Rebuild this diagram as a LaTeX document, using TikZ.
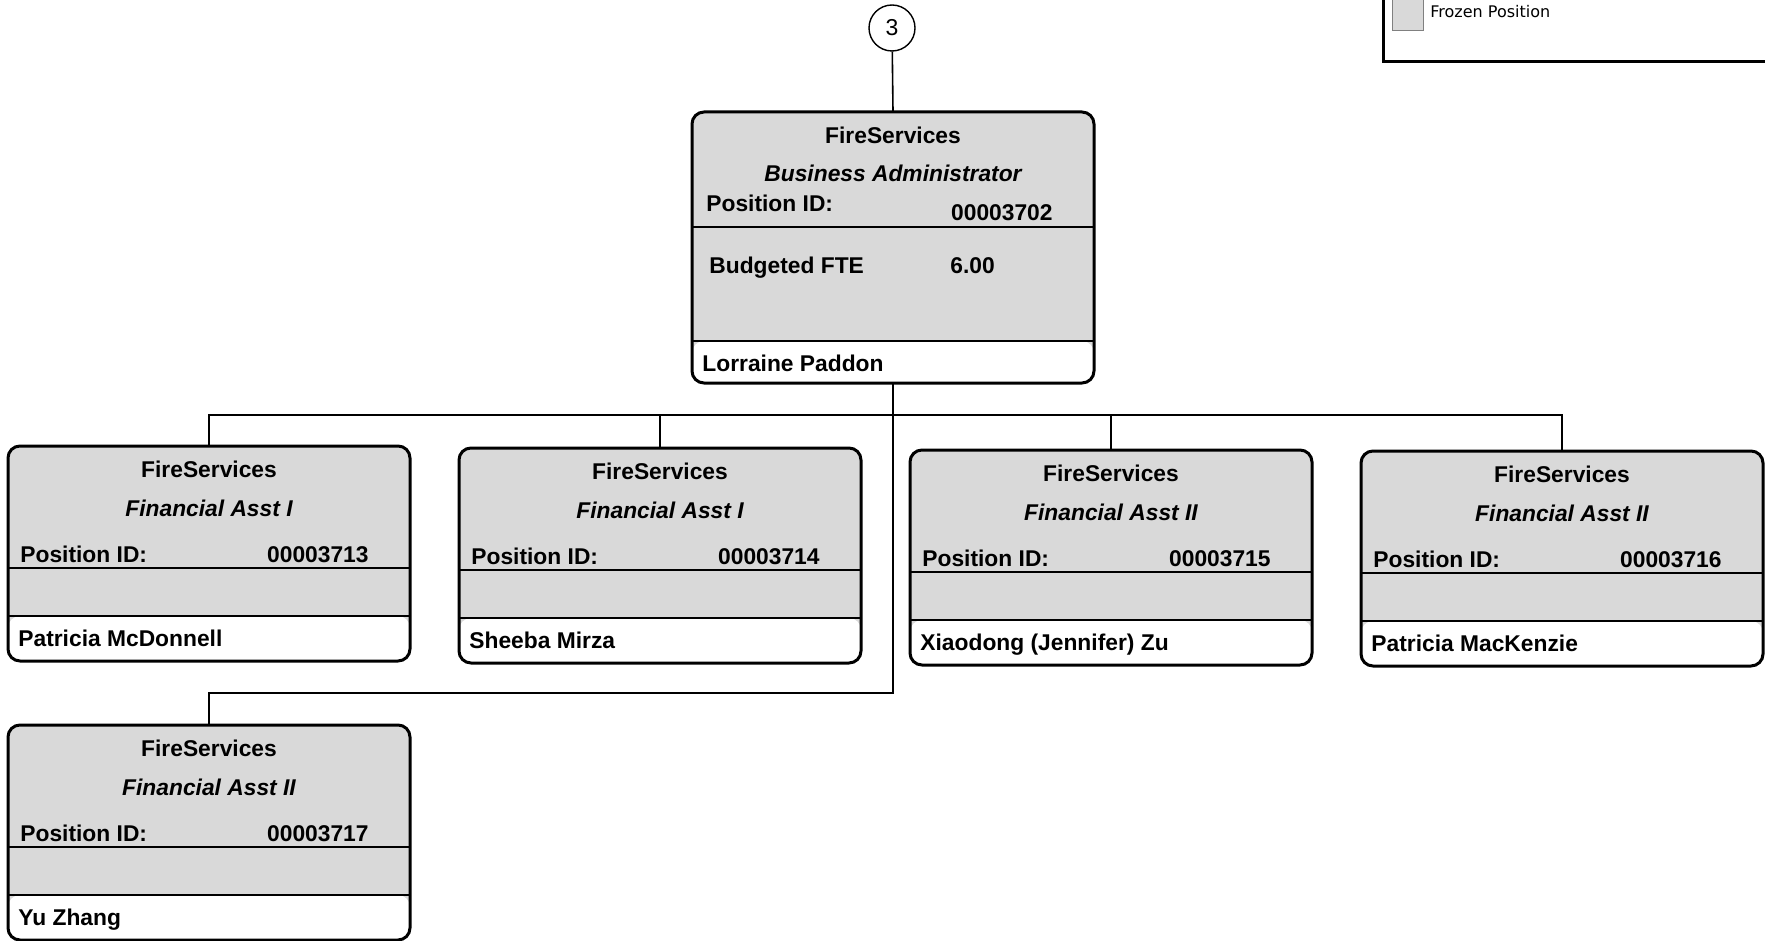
\documentclass[tikz,border=0pt]{standalone}
\usepackage{fontspec}
\setmainfont{Liberation Sans}
\newfontfamily\legendfont{DejaVu Sans}
\definecolor{frozen}{gray}{0.85}

% card text, vertically centred on the capitals
\newcommand\cardfont{\fontsize{11.4}{13}\selectfont\bfseries}

% a reporting position card: name, left, top, title, position id, holder
\newcommand\childcard[6]{%
  \node[card, minimum height=107.5pt, anchor=north west] (#1) at (#2,#3) {};
  \draw[rule] (#2,#3+122) -- (#2+402,#3+122);
  \draw[rule] (#2,#3+170) -- (#2+402,#3+170);
  \node[txt] (#1-org) at (#2+201,#3+23) {FireServices};
  \node[txt, font=\cardfont\itshape] (#1-title) at (#2+201,#3+62) {#4};
  \node[txt, anchor=west] (#1-idl) at (#2+12,#3+108) {Position ID:};
  \node[txt, anchor=east] (#1-id) at (#2+361,#3+108) {#5};
  \node[txt, anchor=west] (#1-name) at (#2+10,#3+192) {#6};
}

\begin{document}
\begin{tikzpicture}[x=0.5pt, y=-0.5pt,
  card/.style={draw, line width=1.5pt, rounded corners=6pt, fill=frozen,
    minimum width=201pt, inner sep=0pt, outer sep=0pt,
    path picture={\fill[white] (path picture bounding box.south west)
      rectangle ([yshift=#1]path picture bounding box.south east);}},
  card/.default=22.5pt,
  rule/.style={line width=1pt},
  txt/.style={inner sep=0pt, text height=8.2pt, text depth=0pt, font=\cardfont},
  conn/.style={line width=0.8pt},
]
\useasboundingbox (0,0) rectangle (1765,941);

% legend panel, partly outside the sheet
\begin{scope}
  \clip (0,0) rectangle (1765,941);
  \node[draw, line width=1.5pt, minimum width=220pt, minimum height=45pt,
    inner sep=0pt, outer sep=0pt, anchor=south west] (legend) at (1383,62) {};
  \node[draw=gray, line width=0.5pt, fill=frozen, minimum size=15.5pt,
    inner sep=0pt, anchor=north west] (swatch) at (1392,-1) {};
  \node[inner sep=0pt, anchor=west, font=\legendfont\fontsize{8}{9}\selectfont]
    (frozenlabel) at (1430,12) {Frozen Position};
\end{scope}

% off-page reference
\node[circle, draw, line width=0.7pt, minimum size=23pt, inner sep=0pt,
  font=\fontsize{11.5}{13}\selectfont] (ref) at (892,28) {3};

% business administrator card
\node[card=21pt, minimum height=135.5pt, anchor=north west] (top) at (692,112) {};
\draw[rule] (692,227) -- (1094,227);
\draw[rule] (692,341) -- (1094,341);
\node[txt] (top-org) at (893,135) {FireServices};
\node[txt, font=\cardfont\itshape] (top-title) at (893,173) {Business Administrator};
\node[txt, anchor=west] (top-idl) at (706,203) {Position ID:};
\node[txt, anchor=east] (top-id) at (1053,212) {00003702};
\node[txt, anchor=west] (top-fte) at (709,265) {Budgeted FTE};
\node[txt, anchor=west] (top-fteval) at (950,265) {6.00};
\node[txt, anchor=west] (top-name) at (702,363) {Lorraine Paddon};

% reporting cards
\childcard{b1}{8}{446}{Financial Asst I}{00003713}{Patricia McDonnell}
\childcard{b2}{459}{448}{Financial Asst I}{00003714}{Sheeba Mirza}
\childcard{b3}{910}{450}{Financial Asst II}{00003715}{Xiaodong (Jennifer) Zu}
\childcard{b4}{1361}{451}{Financial Asst II}{00003716}{Patricia MacKenzie}
\childcard{b5}{8}{725}{Financial Asst II}{00003717}{Yu Zhang}

% connectors
\coordinate (bus) at (top.south |- 0,415);
\coordinate (drop) at (top.south |- 0,693);
\draw[conn] (ref) -- (top.north);
\draw[conn] (top.south) -- (drop) -| (b5.north);
\draw[conn] (b1.north) |- (bus) -| (b4.north);
\draw[conn] (b2.north) -- (b2.north |- bus);
\draw[conn] (b3.north) -- (b3.north |- bus);
\end{tikzpicture}
\end{document}
